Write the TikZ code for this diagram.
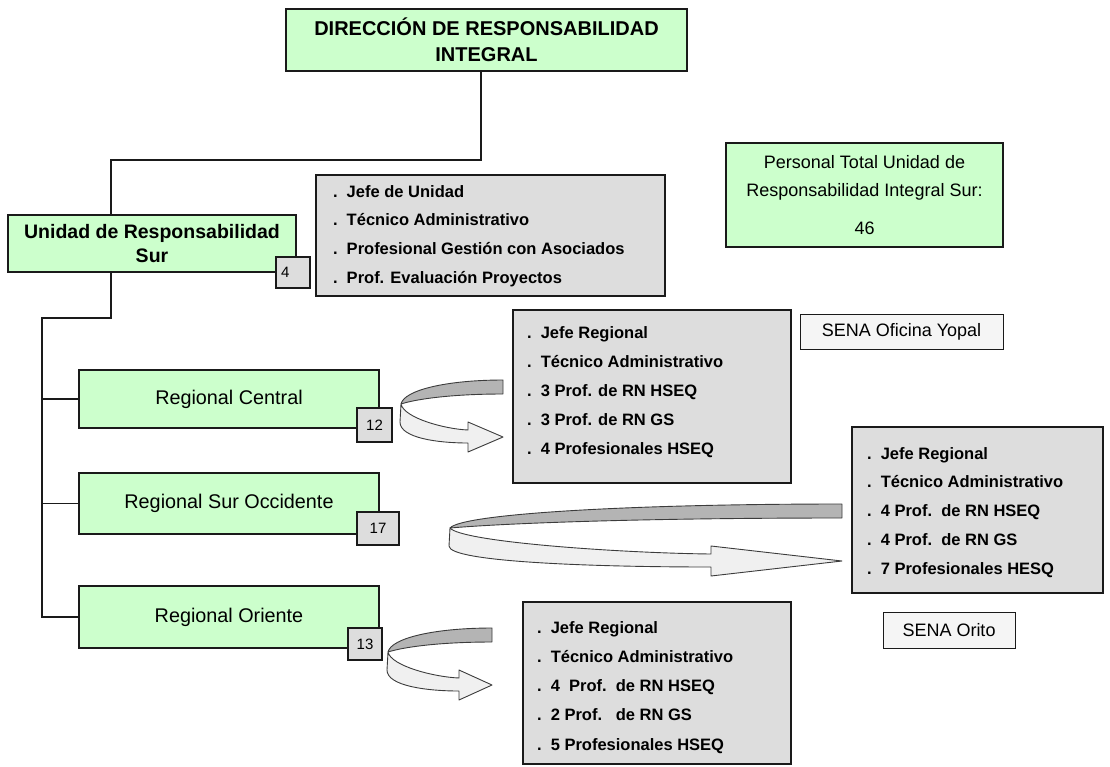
\documentclass[tikz,border=0pt]{standalone}
\usepackage{fontspec}
\setmainfont{Liberation Sans}
\definecolor{boxgreen}{HTML}{CCFFCC}
\definecolor{boxgrey}{HTML}{DDDDDD}
\definecolor{tagfill}{HTML}{F5F5F5}
\definecolor{ribbonback}{HTML}{B4B4B4}
\definecolor{ribbonfront}{HTML}{F0F0F0}
\definecolor{edge}{HTML}{1A1A1A}

% rectangle node given by its corners (x1,y1)-(x2,y2)
\newcommand\boxnode[7]{%
  \node[#6, minimum width={(#4-#2)*1pt}, minimum height={(#5-#3)*1pt}]
    (#1) at ({(#2+#4)/2},{(#3+#5)/2}) {#7};}

% twisted ribbon arrow: left x, right x, top y of the back band, head length
\newcommand\ribbonarrow[4]{%
  \pgfmathsetmacro\rW{#2-#1}%
  \pgfmathsetmacro\rB{#2-#4}%
  \filldraw[ribbon, fill=ribbonback]
    (#2,#3) .. controls ({#2-0.55*\rW},{#3}) and ({#1+0.03*\rW},{#3+10}) .. (#1,{#3+24})
    .. controls ({#1+0.15*\rW},{#3+19}) and ({#2-0.5*\rW},{#3+14}) .. (#2,{#3+14}) -- cycle;
  \filldraw[ribbon, fill=ribbonfront]
    (#1,{#3+24}) .. controls ({#1+0.03*\rW},{#3+38}) and ({\rB-0.35*(\rB-#1)},{#3+49}) .. (\rB,{#3+50})
    -- (\rB,{#3+42}) -- (#2,{#3+57}) -- (\rB,{#3+72}) -- (\rB,{#3+63})
    .. controls ({\rB-0.45*(\rB-#1)},{#3+63}) and ({#1-1},{#3+58}) .. ({#1-1},{#3+42}) -- cycle;}

\begin{document}
\begin{tikzpicture}[x=1pt,y=-1pt,
  every node/.style={inner sep=0pt, outer sep=0pt},
  frame/.style={draw=edge, line width=1.2pt, rectangle},
  greenbox/.style={frame, fill=boxgreen, align=center},
  titlefont/.style={font=\fontsize{20}{26}\bfseries\selectfont},
  unitfont/.style={font=\fontsize{19.5}{24}\bfseries\selectfont},
  regfont/.style={font=\fontsize{19.8}{22}\selectfont},
  listbox/.style={frame, fill=boxgrey},
  numbox/.style={frame, fill=boxgrey, font=\fontsize{15}{18}\selectfont},
  tagbox/.style={frame, line width=1pt, fill=tagfill, font=\fontsize{18}{20}\selectfont},
  item/.style={anchor=base west, font=\fontsize{16.5}{20}\bfseries\selectfont},
  link/.style={draw=edge, line width=1.2pt},
  ribbon/.style={draw=edge!85, line width=0.9pt, line join=round}
]
\useasboundingbox (0,0) rectangle (1110,766);

% main boxes
\boxnode{dir}{286}{9}{687}{71}{greenbox, titlefont}{DIRECCIÓN DE RESPONSABILIDAD\\INTEGRAL}
\boxnode{unidad}{8}{215}{296}{272}{greenbox, unitfont}{Unidad de Responsabilidad\\Sur}
\boxnode{central}{79}{370}{379}{428}{greenbox, regfont}{Regional Central}
\boxnode{suroc}{79}{473}{379}{534}{greenbox, regfont}{Regional Sur Occidente}
\boxnode{oriente}{79}{586}{379}{648}{greenbox, regfont}{Regional Oriente}
\boxnode{total}{726}{143}{1003}{247}{greenbox, font=\fontsize{18}{28}\selectfont}%
  {Personal Total Unidad de\\Responsabilidad Integral Sur:\\[10pt]46}

% head counts
\boxnode{n4}{276}{257}{310}{288}{numbox, text width=24pt, inner xsep=5pt, align=left}{4}
\boxnode{n12}{357}{408}{392}{442}{numbox}{12}
\boxnode{n17}{357}{512}{399}{545}{numbox}{17}
\boxnode{n13}{348}{628}{382}{660}{numbox}{13}

% office tags
\boxnode{yopal}{800}{314}{1003}{349}{tagbox}{SENA Oficina Yopal}
\boxnode{orito}{883}{612}{1015}{648}{tagbox}{SENA Orito}

% staff lists
\boxnode{g1}{316}{175}{665}{296}{listbox}{}
\boxnode{g2}{513}{310}{791}{483}{listbox}{}
\boxnode{g3}{852}{427}{1103}{593}{listbox}{}
\boxnode{g4}{523}{602}{791}{764}{listbox}{}

\foreach \t [count=\i from 0] in {Jefe de Unidad, Técnico Administrativo,
    Profesional Gestión con Asociados, Prof. Evaluación Proyectos}
  \node[item] (g1-\i) at (333,{197+28.7*\i}) {.\ \ \t};
\foreach \t [count=\i from 0] in {Jefe Regional, Técnico Administrativo,
    3 Prof. de RN HSEQ, 3 Prof. de RN GS, 4 Profesionales HSEQ}
  \node[item] (g2-\i) at (527,{338+29*\i}) {.\ \ \t};
\foreach \t [count=\i from 0] in {Jefe Regional, Técnico Administrativo,
    4 Prof.\ \ de RN HSEQ, 4 Prof.\ \ de RN GS, 7 Profesionales HESQ}
  \node[item] (g3-\i) at (867,{459+28.75*\i}) {.\ \ \t};
\foreach \t [count=\i from 0] in {Jefe Regional, Técnico Administrativo,
    4\ \ Prof.\ \ de RN HSEQ, 2 Prof.\ \ \ de RN GS, 5 Profesionales HSEQ}
  \node[item] (g4-\i) at (537,{633+29.25*\i}) {.\ \ \t};

% hierarchy connectors
\coordinate (j1) at (481,160);
\coordinate (j2) at (111,160);
\coordinate (j3) at (111,318);
\coordinate (j4) at (42,318);
\draw[link] (dir.south -| j1) -- (j1) -- (j2) -- (j2 |- unidad.north);
\draw[link] (unidad.south -| j3) -- (j3) -- (j4) -- (j4 |- oriente.west) -- (oriente.west);
\draw[link] (j4 |- central.west) -- (central.west);
\draw[link] (j4 |- suroc.west) -- (suroc.west);

% ribbon arrows towards the regional staff lists
\ribbonarrow{401}{503}{380}{35}
\ribbonarrow{450}{842}{504}{131}
\ribbonarrow{388}{492}{628}{33}
\end{tikzpicture}
\end{document}
